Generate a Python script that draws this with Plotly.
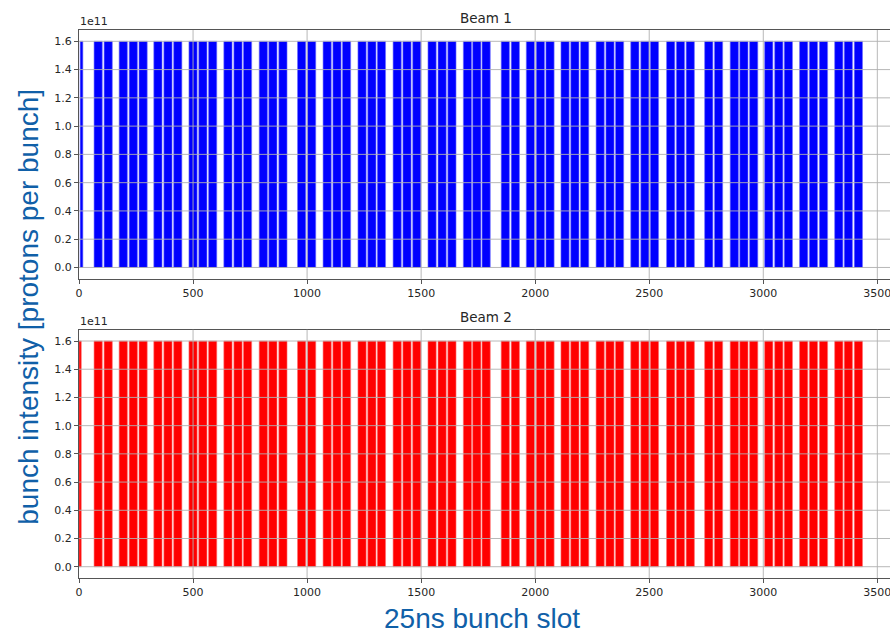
import plotly.graph_objects as go
from plotly.subplots import make_subplots

# ---- data ----
# start slot of every bunch train (25 ns slots) and its number of bunches
train_start_b1 = [5, 66, 110, 176, 220, 263, 328, 372, 415, 482, 525, 568,
                  635, 679, 721, 790, 832, 876, 958, 1002, 1070, 1113, 1155,
                  1223, 1266, 1308, 1377, 1420, 1463, 1530, 1574, 1617, 1685,
                  1726, 1767, 1851, 1895, 1961, 2005, 2047, 2113, 2156, 2199,
                  2267, 2310, 2352, 2419, 2463, 2505, 2576, 2619, 2662, 2743,
                  2786, 2855, 2897, 2940, 3006, 3050, 3092, 3159, 3202, 3246,
                  3313, 3355, 3399]
train_len_b1 = [12] + [36] * 65

train_start_b2 = [0, 66, 110, 176, 220, 263, 328, 372, 415, 482, 525, 568,
                  635, 679, 721, 790, 832, 876, 958, 1002, 1070, 1113, 1155,
                  1223, 1266, 1308, 1377, 1420, 1463, 1530, 1574, 1617, 1685,
                  1726, 1767, 1851, 1895, 1961, 2005, 2047, 2113, 2156, 2199,
                  2267, 2310, 2352, 2419, 2463, 2505, 2576, 2619, 2662, 2743,
                  2786, 2855, 2897, 2940, 3006, 3050, 3092, 3159, 3202, 3246,
                  3313, 3355, 3399]
train_len_b2 = [10] + [36] * 65

intensity_b1 = [1.6e11] * len(train_start_b1)
intensity_b2 = [1.6e11] * len(train_start_b2)

x_ticks = [0, 500, 1000, 1500, 2000, 2500, 3000, 3500]
y_ticks = [0.0, 0.2e11, 0.4e11, 0.6e11, 0.8e11, 1.0e11, 1.2e11, 1.4e11, 1.6e11]
y_tick_text = ["0.0", "0.2", "0.4", "0.6", "0.8", "1.0", "1.2", "1.4", "1.6"]
titles = ["Beam 1", "Beam 2"]

# ---- layout helpers (pixel -> paper) ----
W, H = 890, 633
L, R, T, B = 79, 0, 30, 54.5
PH = H - T - B
PW = W - L - R


def py(p):
    return (H - B - p) / PH


def px(p):
    return (p - L) / PW


fig = make_subplots(rows=2, cols=1)

fig.add_trace(go.Bar(x=train_start_b1, y=intensity_b1, width=train_len_b1, offset=0,
                     marker=dict(color="#0000ff", line=dict(color="#7070ff", width=0.6)),
                     showlegend=False), row=1, col=1)
fig.add_trace(go.Bar(x=train_start_b2, y=intensity_b2, width=train_len_b2, offset=0,
                     marker=dict(color="#ff0000", line=dict(color="#ff7070", width=0.6)),
                     showlegend=False), row=2, col=1)

tickfont = dict(family="DejaVu Sans", size=11, color="#262626")
axis_common = dict(showgrid=False, zeroline=False, showline=True, linecolor="#555555",
                   linewidth=1, ticks="outside", ticklen=4, tickcolor="#555555",
                   tickfont=tickfont)

fig.update_layout(
    width=W, height=H, margin=dict(l=L, r=R, t=T, b=B),
    plot_bgcolor="white", paper_bgcolor="white", barmode="overlay",
    xaxis=dict(domain=[0, 1], range=[0, 3555.6], tickvals=x_ticks, mirror=True,
               ticklabeloverflow="allow", **axis_common),
    xaxis2=dict(domain=[0, 1], range=[0, 3555.6], tickvals=x_ticks, mirror=True,
                ticklabeloverflow="allow", **axis_common),
    yaxis=dict(domain=[py(279), py(30)], range=[-0.08e11, 1.68e11], tickvals=y_ticks,
               ticktext=y_tick_text, **axis_common),
    yaxis2=dict(domain=[py(578.5), py(330)], range=[-0.08e11, 1.68e11], tickvals=y_ticks,
                ticktext=y_tick_text, **axis_common),
)

# grid lines drawn above the bars, as in the original
grid = dict(color="#b0b0b0", width=0.9)
for xa, ya in (("x", "y"), ("x2", "y2")):
    for v in y_ticks:
        fig.add_shape(type="line", xref=xa + " domain", yref=ya, x0=0, x1=1, y0=v, y1=v,
                      line=grid, layer="above")
    for v in x_ticks[1:]:
        fig.add_shape(type="line", xref=xa, yref=ya + " domain", x0=v, x1=v, y0=0, y1=1,
                      line=grid, layer="above")

ann = []
for title, top in zip(titles, (30, 330)):
    ann.append(dict(text=title, xref="paper", yref="paper", x=px(486), y=py(top - 12.5),
                    xanchor="center", yanchor="middle", showarrow=False,
                    font=dict(family="DejaVu Sans", size=13.5, color="#262626")))
    ann.append(dict(text="1e11", xref="paper", yref="paper", x=px(78), y=py(top - 8.5),
                    xanchor="left", yanchor="middle", showarrow=False,
                    font=tickfont))

label_color = "#1060a8"
ann.append(dict(text="bunch intensity [protons per bunch]", xref="paper", yref="paper",
                x=px(29), y=py(307), textangle=-90, xanchor="center", yanchor="middle",
                showarrow=False, font=dict(family="Liberation Sans", size=28, color=label_color)))
ann.append(dict(text="25ns bunch slot", xref="paper", yref="paper",
                x=px(482), y=py(619), xanchor="center", yanchor="middle",
                showarrow=False, font=dict(family="Liberation Sans", size=28, color=label_color)))
fig.update_layout(annotations=ann)

fig.write_html("out.html")
